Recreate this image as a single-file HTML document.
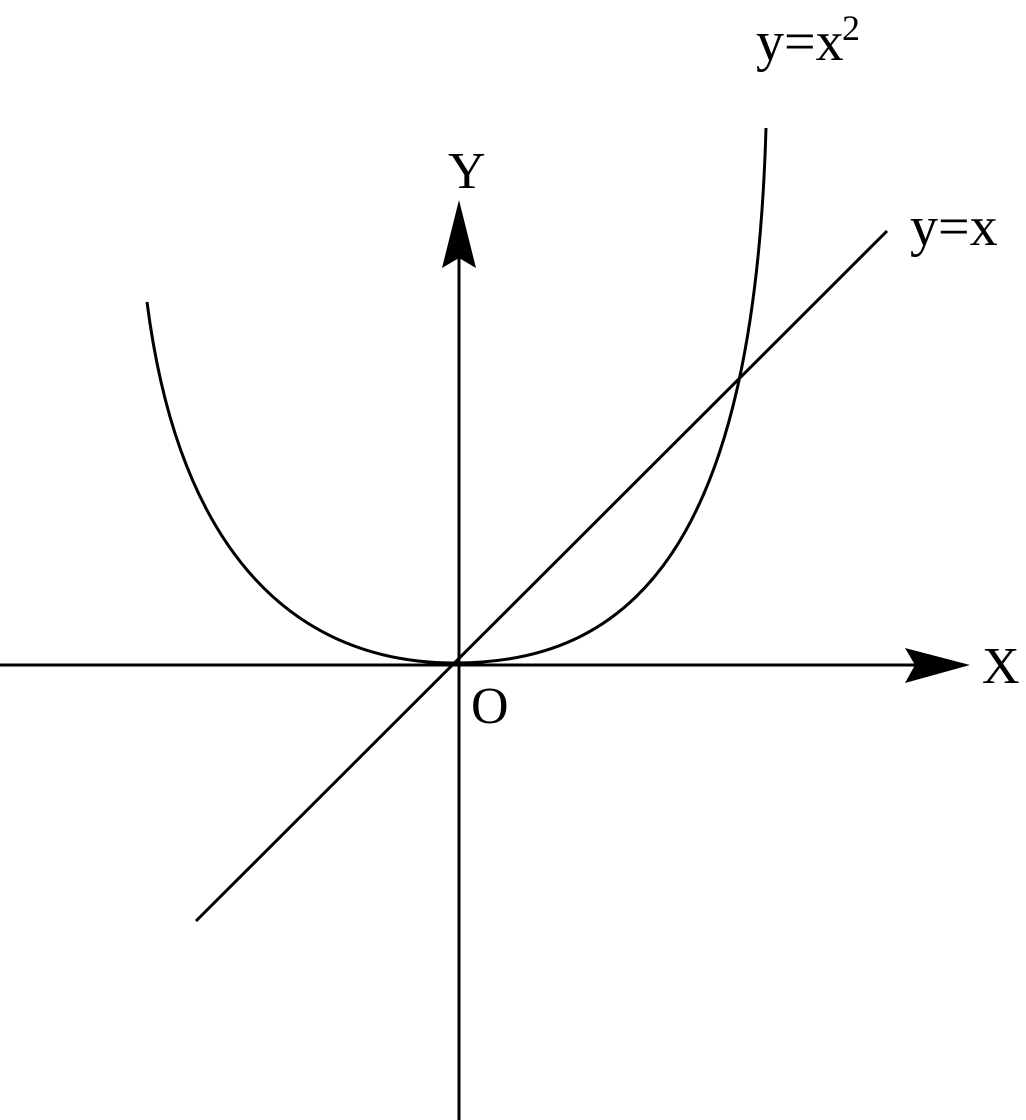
<!DOCTYPE html>
<html><head><style>
html,body{margin:0;padding:0;background:#fff;}
svg{display:block;}
text{font-family:"Liberation Serif",serif;fill:#000;}
</style></head><body>
<svg width="1026" height="1120" viewBox="0 0 1026 1120" xmlns="http://www.w3.org/2000/svg">
<g stroke="#000" stroke-width="3" fill="none">
<line x1="0" y1="665" x2="940" y2="665"/>
<line x1="459" y1="1120" x2="459" y2="240"/>
<line x1="196" y1="921" x2="887" y2="231"/>
<path d="M147,302 C180,560 300,663 455,663 C630,663 754,550 766,128"/>
</g>
<path d="M970,665 L905,648 L915,665 L905,683 Z" fill="#000"/>
<path d="M459,200 L442,268 L459,258 L476,268 Z" fill="#000"/>
<text x="448" y="188" font-size="52">Y</text>
<text x="982" y="683" font-size="52">X</text>
<text x="471" y="723" font-size="52">O</text>
<text x="910" y="245" font-size="56">y=x</text>
<text x="756" y="60" font-size="56">y=x</text>
<text x="842" y="40" font-size="36">2</text>
</svg>
</body></html>
